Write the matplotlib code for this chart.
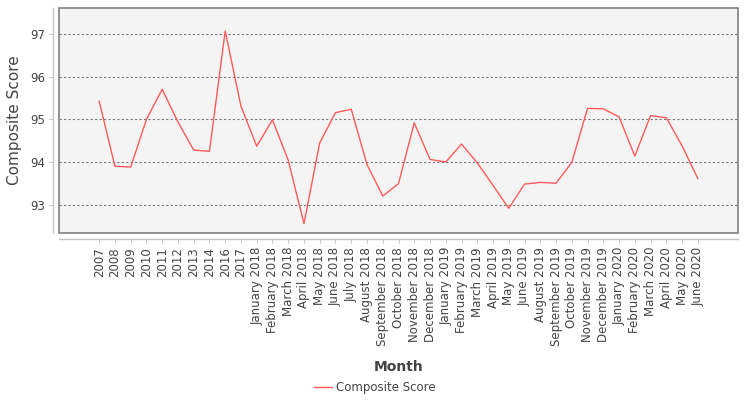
import matplotlib
matplotlib.use("Agg")
import matplotlib.pyplot as plt
from matplotlib.patches import Rectangle

# categories on the x axis (as labelled in the source chart)
months = [
    "2007", "2008", "2009", "2010", "2011", "2012", "2013", "2014", "2016", "2017",
    "January 2018", "February 2018", "March 2018", "April 2018", "May 2018",
    "June 2018", "July 2018", "August 2018", "September 2018", "October 2018",
    "November 2018", "December 2018", "January 2019", "February 2019",
    "March 2019", "April 2019", "May 2019", "June 2019", "August 2019",
    "September 2019", "October 2019", "November 2019", "December 2019",
    "January 2020", "February 2020", "March 2020", "April 2020", "May 2020",
    "June 2020",
]

# composite score per category
scores = [
    95.43, 93.90, 93.88, 95.00, 95.71, 94.94, 94.28, 94.25, 97.08, 95.31,
    94.37, 94.99, 94.04, 92.55, 94.45, 95.16, 95.24, 93.94, 93.20, 93.49,
    94.92, 94.06, 94.00, 94.42, 93.98, 93.45, 92.91, 93.48, 93.52, 93.50,
    93.99, 95.26, 95.25, 95.06, 94.14, 95.09, 95.04, 94.38, 93.61,
]

y_ticks = [93, 94, 95, 96, 97]

text_col = "#444444"
line_col = "#ff5a5a"

fig = plt.figure(figsize=(7.5, 4), dpi=100)
ax = fig.add_axes([59 / 750, 1 - 233 / 400, (738 - 59) / 750, (233 - 8) / 400])

x = list(range(len(months)))
ax.plot(x, scores, color=line_col, linewidth=1.0, label="Composite Score", zorder=3)

ax.set_facecolor("#f4f4f4")
ax.set_xlim(-2.55, len(months) - 1 + 2.55)
ax.set_ylim(92.33, 97.62)

# dashed grid on the value axis
ax.set_yticks(y_ticks)
ax.yaxis.grid(True, color="#777777", linestyle=(0, (2, 2)), linewidth=0.8)
ax.xaxis.grid(False)
ax.set_axisbelow(True)

ax.set_xticks(x)
ax.set_xticklabels(months)
ax.tick_params(axis="both", length=3, width=0.6, color="#bbbbbb", pad=3,
               labelsize=8.5, labelcolor=text_col)
ax.tick_params(axis="x", labelrotation=90)

# axis lines sit a bit outside the plot frame
for side in ["left", "bottom"]:
    ax.spines[side].set_position(("outward", 4))
    ax.spines[side].set_color("#c4c4c4")
    ax.spines[side].set_linewidth(1.0)
for side in ["top", "right"]:
    ax.spines[side].set_visible(False)

# frame around the plotting area
ax.add_patch(Rectangle((0, 0), 1, 1, transform=ax.transAxes, fill=False,
                       edgecolor="#808080", linewidth=1.2, zorder=4, clip_on=False))

ax.set_ylabel("Composite Score", fontsize=11, color=text_col, labelpad=6)
ax.set_xlabel("Month", fontsize=10, fontweight="bold", color=text_col, labelpad=10)

ax.legend(loc="center", bbox_to_anchor=(0.5, 1 - 388 / 400), bbox_transform=fig.transFigure,
          frameon=False, fontsize=8.5, handlelength=1.5, handletextpad=0.4,
          labelcolor=text_col)

fig.savefig("out.png", dpi=100, facecolor="white")
